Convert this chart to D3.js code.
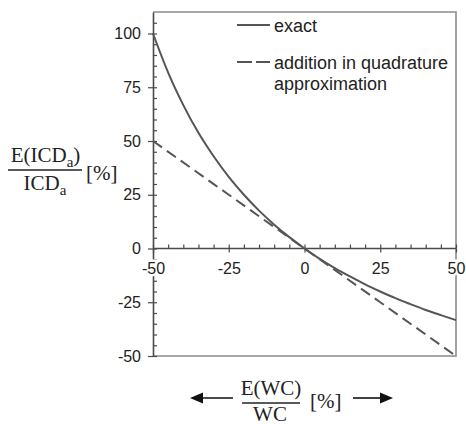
<!DOCTYPE html>
<html>
<head>
<meta charset="utf-8">
<script src="https://cdn.jsdelivr.net/npm/d3@7"></script>
<style>
  body { margin: 0; background: #fff; }
  text { font-family: "Liberation Sans", Arial, sans-serif; fill: #222; }
  .serif { font-family: "Liberation Serif", "Times New Roman", serif; }
</style>
</head>
<body>
<div id="chart"></div>
<script>
// values
var xExact = [-50, -45, -40, -35, -30, -25, -20, -15, -10, -5, 0, 5, 10, 15, 20, 25, 30, 35, 40, 45, 50];
var yExact = [100, 81.8, 66.7, 53.8, 42.9, 33.3, 25, 17.6, 11.1, 5.3, 0, -4.8, -9.1, -13, -16.7, -20, -23.1, -25.9, -28.6, -31, -33.3];
var xApprox = [-50, -25, 0, 25, 50];
var yApprox = [50, 25, 0, -25, -50];
var xTicks = [-50, -25, 0, 25, 50];
var yTicks = [-50, -25, 0, 25, 50, 75, 100];
var legendLabels = [["exact"], ["addition in quadrature", "approximation"]];

var W = 466, H = 424;
var pLeft = 153, pRight = 456, pTop = 12, pBottom = 356;

var svg = d3.select("#chart").append("svg")
  .attr("width", W)
  .attr("height", H);

var x = d3.scaleLinear().domain([-50, 50]).range([pLeft, pRight]);
var y = d3.scaleLinear().domain([-50, 110]).range([pBottom, pTop]);

var axisCol = "#4a4a4a";
var lineCol = "#555";
var plain = function(d) { return String(d); }; // hyphen minus like the original

// frame (top, right, bottom)
svg.append("path")
  .attr("d", "M" + pLeft + "," + pTop + "H" + pRight + "V" + pBottom + "H" + pLeft)
  .attr("fill", "none")
  .attr("stroke", "#8a8a8a")
  .attr("stroke-width", 1.6);

// minor ticks every 5
var yMinor = d3.range(-45, 110, 5).filter(function(v) { return v % 25 != 0; });
var xMinor = d3.range(-45, 50, 5).filter(function(v) { return v % 25 != 0; });

var yInner = svg.append("g")
  .attr("transform", "translate(" + pLeft + ",0)")
  .call(d3.axisRight(y).tickValues(yMinor.concat(yTicks)).tickSize(4).tickFormat(""));
yInner.select(".domain").remove();

var xInner = svg.append("g")
  .attr("transform", "translate(0," + y(0) + ")")
  .call(d3.axisTop(x).tickValues(xMinor.concat(xTicks)).tickSize(4).tickFormat(""));
xInner.select(".domain").remove();

// y axis with labels
var yAxis = svg.append("g")
  .attr("transform", "translate(" + pLeft + ",0)")
  .call(d3.axisLeft(y).tickValues(yTicks).tickSize(5).tickPadding(7).tickSizeOuter(0).tickFormat(plain));
yAxis.selectAll("text").style("font-size", "16px").attr("fill", "#222");

// x axis through zero
var xAxis = svg.append("g")
  .attr("transform", "translate(0," + y(0) + ")")
  .call(d3.axisBottom(x).tickValues(xTicks).tickSize(4).tickPadding(10).tickSizeOuter(0).tickFormat(plain));
xAxis.select(".domain").remove();
xAxis.selectAll("text")
  .style("font-size", "16px")
  .attr("fill", "#222")
  .attr("stroke", "#fff")
  .attr("stroke-width", 5)
  .attr("paint-order", "stroke");

svg.selectAll(".tick line").attr("stroke", axisCol).attr("stroke-width", 1.2);
yAxis.select(".domain").attr("stroke", axisCol).attr("stroke-width", 1.6);
yAxis.raise();
xAxis.raise();

svg.append("line")
  .attr("x1", x(-50)).attr("x2", x(50))
  .attr("y1", y(0)).attr("y2", y(0))
  .attr("stroke", axisCol).attr("stroke-width", 1.4);

// curves
var line = d3.line()
  .x(function(d) { return x(d[0]); })
  .y(function(d) { return y(d[1]); })
  .curve(d3.curveMonotoneX);

svg.append("path")
  .datum(d3.zip(xApprox, yApprox))
  .attr("d", line)
  .attr("fill", "none")
  .attr("stroke", lineCol)
  .attr("stroke-width", 2)
  .attr("stroke-dasharray", "11,6");

svg.append("path")
  .datum(d3.zip(xExact, yExact))
  .attr("d", line)
  .attr("fill", "none")
  .attr("stroke", lineCol)
  .attr("stroke-width", 2);

// legend
var lg = svg.append("g");
var legY = [25, 62];
legendLabels.forEach(function(lbl, i) {
  lg.append("line")
    .attr("x1", 237).attr("x2", 270)
    .attr("y1", legY[i]).attr("y2", legY[i])
    .attr("stroke", lineCol)
    .attr("stroke-width", 2)
    .attr("stroke-dasharray", i == 1 ? "15,4" : null);
  lbl.forEach(function(t, j) {
    lg.append("text")
      .attr("x", 274)
      .attr("y", legY[i] + 7 + j * 21)
      .style("font-size", "18px")
      .text(t);
  });
});

// y label (fraction)
var yl = svg.append("g");
var num = yl.append("text").attr("class", "serif").attr("x", 45.5).attr("y", 162)
  .attr("text-anchor", "middle").style("font-size", "21px");
num.append("tspan").text("E(ICD");
num.append("tspan").attr("dy", 5).style("font-size", "15px").text("a");
num.append("tspan").attr("dy", -5).text(")");
yl.append("line").attr("x1", 8).attr("x2", 82).attr("y1", 170).attr("y2", 170)
  .attr("stroke", "#222").attr("stroke-width", 1.3);
var den = yl.append("text").attr("class", "serif").attr("x", 45).attr("y", 190)
  .attr("text-anchor", "middle").style("font-size", "21px");
den.append("tspan").text("ICD");
den.append("tspan").attr("dy", 5).style("font-size", "15px").text("a");
yl.append("text").attr("class", "serif").attr("x", 86).attr("y", 180)
  .style("font-size", "21px").text("[%]");

// x label (fraction with arrows)
var xl = svg.append("g");
xl.append("text").attr("class", "serif").attr("x", 271).attr("y", 395)
  .attr("text-anchor", "middle").style("font-size", "21px").text("E(WC)");
xl.append("line").attr("x1", 242).attr("x2", 300).attr("y1", 403).attr("y2", 403)
  .attr("stroke", "#222").attr("stroke-width", 1.3);
xl.append("text").attr("class", "serif").attr("x", 270).attr("y", 421)
  .attr("text-anchor", "middle").style("font-size", "21px").text("WC");
xl.append("text").attr("class", "serif").attr("x", 310).attr("y", 408)
  .style("font-size", "21px").text("[%]");

xl.append("line").attr("x1", 200).attr("x2", 233).attr("y1", 398).attr("y2", 398)
  .attr("stroke", "#111").attr("stroke-width", 1.6);
xl.append("path").attr("d", "M190,398L203,392.5L203,403.5Z").attr("fill", "#111");
xl.append("line").attr("x1", 353).attr("x2", 382).attr("y1", 398).attr("y2", 398)
  .attr("stroke", "#111").attr("stroke-width", 1.6);
xl.append("path").attr("d", "M393,398L380,392.5L380,403.5Z").attr("fill", "#111");
</script>
</body>
</html>
